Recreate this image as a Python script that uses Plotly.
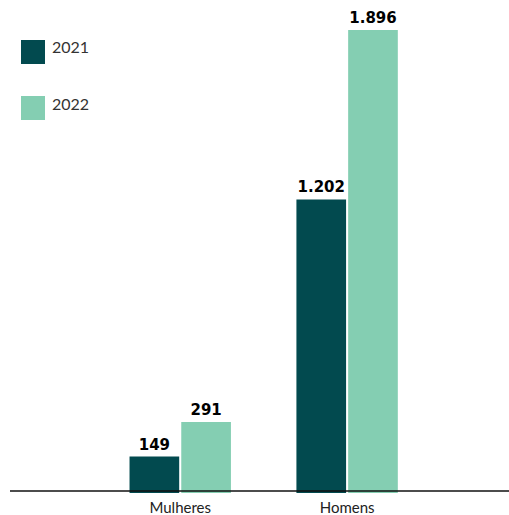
import plotly.graph_objects as go

categories = ["Mulheres", "Homens"]
series_names = ["2021", "2022"]
values_2021 = [149, 1202]
values_2022 = [291, 1896]
colors = ["#024a4f", "#84ceb2"]

fig = go.Figure()
for name, vals, col in zip(series_names, [values_2021, values_2022], colors):
    fig.add_trace(go.Bar(
        x=categories, y=vals, name=name, marker=dict(color=col, line=dict(width=0)),
        texttemplate="%{y:,}", textposition="outside", cliponaxis=False,
        textfont=dict(family="DejaVu Sans", size=15, color="#000000", weight="bold"),
        showlegend=False,
    ))

PW, PH = 499, 483  # plot area size in px
# legend drawn as squares + labels
for i, (name, col) in enumerate(zip(series_names, colors)):
    fig.add_shape(type="rect", xref="paper", yref="paper",
                  x0=(21 - 10) / PW, x1=(45 - 10) / PW,
                  y0=1 - (64 + 56 * i - 10) / PH, y1=1 - (40 + 56 * i - 10) / PH,
                  fillcolor=col, line=dict(width=0))
    fig.add_annotation(xref="paper", yref="paper", x=(50 - 10) / PW,
                       y=1 - (47 + 56 * i - 10) / PH, text=name, showarrow=False,
                       xanchor="left", yanchor="middle",
                       font=dict(family="Lato", size=16, color="#333333"))

# baseline
fig.add_shape(type="line", xref="paper", yref="y", x0=0, x1=1, y0=8, y1=8,
              line=dict(color="#111111", width=1.5))

fig.update_layout(
    width=509, height=515,
    margin=dict(l=10, r=0, t=10, b=22),
    paper_bgcolor="white", plot_bgcolor="white",
    barmode="group", bargap=0.38, bargroupgap=0.04,
    separators=",.",
    xaxis=dict(range=[-1.02, 1.97], showline=False, showgrid=False, zeroline=False,
               ticks="", ticklabelstandoff=4,
               tickfont=dict(family="Lato", size=15, color="#222222")),
    yaxis=dict(range=[0, 1978], visible=False, showgrid=False, zeroline=False),
)

fig.write_html("out.html", config={"displayModeBar": False},
               post_script="document.body.style.margin='0';")
